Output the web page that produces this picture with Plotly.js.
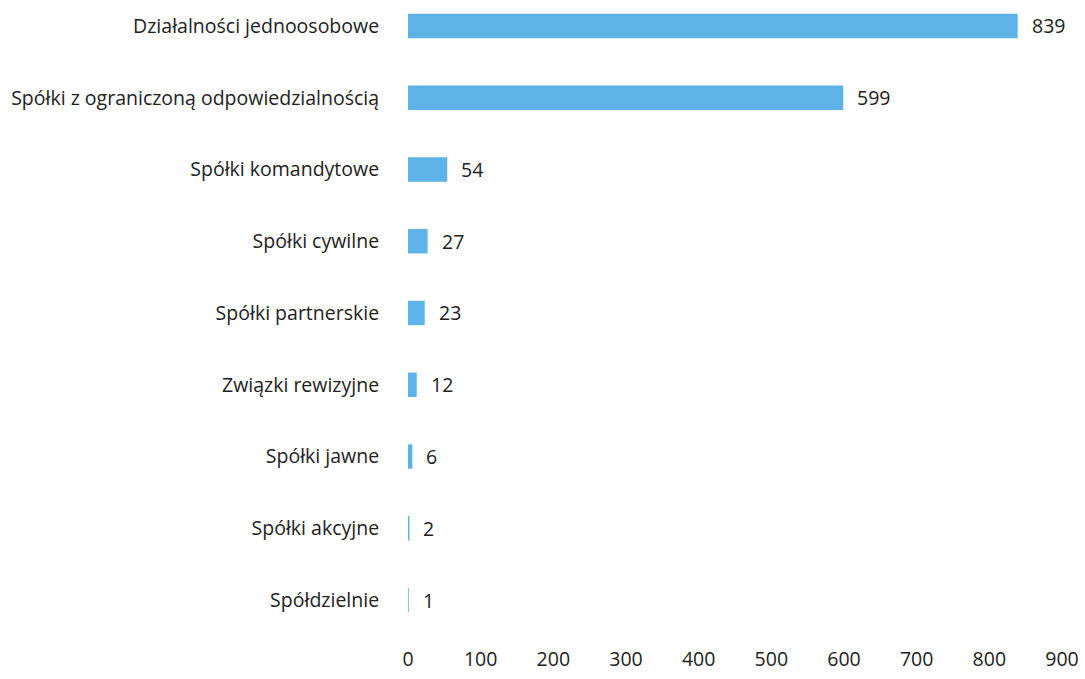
<!DOCTYPE html>
<html>
<head>
<meta charset="utf-8">
<script src="https://cdn.plot.ly/plotly-3.0.1.min.js"></script>
<style>html,body{margin:0;padding:0;background:#fff;}#chart{width:1085px;height:679px;}</style>
</head>
<body>
<div id="chart"></div>
<script>
const categories = [
  "Działalności jednoosobowe",
  "Spółki z ograniczoną odpowiedzialnością",
  "Spółki komandytowe",
  "Spółki cywilne",
  "Spółki partnerskie",
  "Związki rewizyjne",
  "Spółki jawne",
  "Spółki akcyjne",
  "Spółdzielnie"
];
const values = [839, 599, 54, 27, 23, 12, 6, 2, 1];
const xTicks = [0, 100, 200, 300, 400, 500, 600, 700, 800, 900];

const FONT = "Open Sans, Noto Sans, sans-serif";
const FS = 19.5;
const trace = {
  type: "bar",
  orientation: "h",
  x: values,
  y: categories,
  marker: {color: "#5DB3E8"},
  width: 0.34,
  hoverinfo: "none"
};
const annotations = values.map((v, i) => ({
  x: v, y: categories[i], xref: "x", yref: "y",
  text: String(v), showarrow: false, xanchor: "left", xshift: 12,
  font: {family: FONT, size: FS, color: "#222"}
}));
const layout = {
  width: 1085, height: 679,
  margin: {l: 408, r: 23, t: 0, b: 34},
  paper_bgcolor: "#fff", plot_bgcolor: "#fff",
  showlegend: false,
  font: {family: FONT, size: FS, color: "#222"},
  xaxis: {
    range: [0, 900], tickvals: xTicks, ticktext: xTicks.map(String),
    showgrid: false, zeroline: false, showline: false,
    ticks: "", 
    tickfont: {family: FONT, size: FS, color: "#222"}, fixedrange: true
  },
  yaxis: {
    type: "category", categoryorder: "array", categoryarray: categories,
    range: [8.627, -0.362],
    showgrid: false, zeroline: false, showline: false,
    ticks: "outside", ticklen: 24, tickcolor: "rgba(0,0,0,0)",
    tickfont: {family: FONT, size: FS, color: "#222"}, fixedrange: true
  },
  annotations: annotations
};
Plotly.newPlot("chart", [trace], layout, {displayModeBar: false, staticPlot: true});
</script>
</body>
</html>
